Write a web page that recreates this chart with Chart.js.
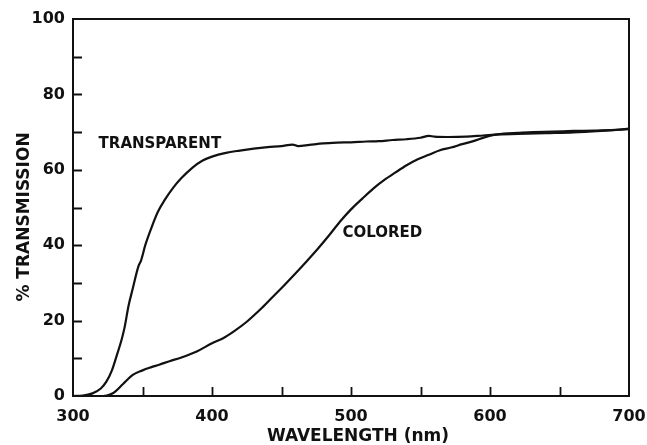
<!DOCTYPE html>
<html>
<head>
<meta charset="utf-8">
<script src="https://cdn.jsdelivr.net/npm/chart.js@4/dist/chart.umd.min.js"></script>
<style>
  html, body { margin: 0; padding: 0; background: #fff; }
  canvas { display: block; }
</style>
</head>
<body>
<canvas id="spectrum" width="647" height="445"></canvas>
<script>
// Transmission spectra of the two samples: wavelength (nm) and % transmission
const transparentNm = [300, 307, 314, 320, 324, 328, 331, 335, 337, 340, 343, 347, 349, 352, 356, 361, 366, 372, 378, 386, 393, 400, 410, 420, 430, 440, 450, 458, 462, 470, 480, 490, 500, 511, 520, 530, 540, 550, 556, 560, 570, 583, 595, 607, 620, 640, 660, 680, 700];
const transparentPct = [0, 0.1, 0.7, 2.0, 3.8, 6.8, 10.2, 15, 18, 24, 28.5, 34.3, 36, 40, 44.2, 48.8, 52, 55.2, 57.8, 60.6, 62.4, 63.5, 64.5, 65.1, 65.6, 66, 66.3, 66.7, 66.3, 66.6, 67, 67.2, 67.3, 67.5, 67.6, 67.9, 68.1, 68.5, 69, 68.8, 68.7, 68.8, 69.1, 69.4, 69.5, 69.7, 69.9, 70.3, 70.8];

const coloredNm = [322, 324, 329, 336, 343, 350, 356, 362, 370, 377, 389, 400, 408, 416, 425, 436, 444, 452, 460, 468, 476, 484, 492, 500, 508, 516, 524, 532, 540, 548, 556, 564, 572, 580, 588, 596, 602, 610, 620, 631, 645, 660, 675, 690, 700];
const coloredPct = [0, 0.1, 0.8, 3.2, 5.6, 6.8, 7.6, 8.3, 9.3, 10.1, 11.8, 14, 15.3, 17.2, 19.7, 23.4, 26.4, 29.4, 32.5, 35.7, 39, 42.5, 46.2, 49.5, 52.3, 55, 57.3, 59.3, 61.2, 62.8, 64, 65.2, 65.9, 66.8, 67.6, 68.6, 69.2, 69.6, 69.8, 70, 70.1, 70.3, 70.4, 70.6, 70.9];

// Axis ranges and tick spacing
const xRange = [300, 700];
const yRange = [0, 100];
const xTickStep = 50;   // tick marks every 50 nm, labels every 100 nm
const yTickStep = 10;   // tick marks every 10 %, labels every 20 %
const xTitle = 'WAVELENGTH (nm)';
const yTitle = '% TRANSMISSION';
const curveLabels = [
  { text: 'TRANSPARENT', nm: 362.5, pct: 66.8 },
  { text: 'COLORED', nm: 522.5, pct: 43.2 }
];

const INK = '#111';
const FONT = "'DejaVu Sans', 'Liberation Sans', sans-serif";

function toPoints(xs, ys) {
  return xs.map((x, i) => ({ x: x, y: ys[i] }));
}

// Boxed frame, inward tick marks, curve labels and axis titles
const framePlugin = {
  id: 'frame',
  afterDraw(chart) {
    const { ctx, chartArea: a, scales } = chart;
    const xs = scales.x, ys = scales.y;
    ctx.save();
    ctx.strokeStyle = INK;
    ctx.lineWidth = 2;
    ctx.strokeRect(a.left, a.top, a.right - a.left, a.bottom - a.top);

    const tickLen = 9;
    ctx.lineWidth = 1.8;
    ctx.beginPath();
    for (let v = xRange[0] + xTickStep; v < xRange[1]; v += xTickStep) {
      const px = Math.round(xs.getPixelForValue(v)) + 0.5;
      ctx.moveTo(px, a.bottom);
      ctx.lineTo(px, a.bottom - tickLen);
    }
    for (let v = yRange[0] + yTickStep; v < yRange[1]; v += yTickStep) {
      const py = Math.round(ys.getPixelForValue(v)) + 0.5;
      ctx.moveTo(a.left, py);
      ctx.lineTo(a.left + tickLen, py);
    }
    ctx.stroke();

    ctx.fillStyle = INK;
    ctx.textAlign = 'center';
    ctx.textBaseline = 'middle';
    ctx.font = 'bold 15px ' + FONT;
    curveLabels.forEach(l => {
      ctx.fillText(l.text, xs.getPixelForValue(l.nm), ys.getPixelForValue(l.pct));
    });

    ctx.font = 'bold 17px ' + FONT;
    ctx.fillText(xTitle, 358, 437);
    ctx.translate(25, 217);
    ctx.rotate(-Math.PI / 2);
    ctx.fillText(yTitle, 0, 0);
    ctx.restore();
  }
};

new Chart(document.getElementById('spectrum'), {
  type: 'line',
  data: {
    datasets: [
      {
        label: 'TRANSPARENT',
        data: toPoints(transparentNm, transparentPct),
        borderColor: INK,
        borderWidth: 2.2,
        pointRadius: 0,
        cubicInterpolationMode: 'monotone',
        fill: false
      },
      {
        label: 'COLORED',
        data: toPoints(coloredNm, coloredPct),
        borderColor: INK,
        borderWidth: 2.2,
        pointRadius: 0,
        cubicInterpolationMode: 'monotone',
        fill: false
      }
    ]
  },
  options: {
    responsive: false,
    animation: false,
    events: [],
    layout: { padding: { top: 19, right: 18, left: 0, bottom: 0 }, autoPadding: false },
    plugins: {
      legend: { display: false },
      tooltip: { enabled: false }
    },
    scales: {
      x: {
        type: 'linear',
        min: xRange[0],
        max: xRange[1],
        grid: { display: false, drawTicks: false },
        border: { display: false },
        ticks: {
          stepSize: xTickStep,
          autoSkip: false,
          maxRotation: 0,
          padding: 11,
          color: INK,
          font: { family: FONT, size: 16, weight: 'bold' },
          callback: v => (v % 100 === 0 ? String(v) : '')
        },
        afterFit(scale) {
          scale.height = 49;
          scale.paddingLeft = 0;
          scale.paddingRight = 0;
        }
      },
      y: {
        type: 'linear',
        min: yRange[0],
        max: yRange[1],
        grid: { display: false, drawTicks: false },
        border: { display: false },
        ticks: {
          stepSize: yTickStep,
          autoSkip: false,
          padding: 8,
          color: INK,
          font: { family: FONT, size: 16, weight: 'bold' },
          callback: v => (v % 20 === 0 ? String(v) : '')
        },
        afterFit(scale) {
          scale.width = 73;
          scale.paddingTop = 0;
          scale.paddingBottom = 0;
        }
      }
    }
  },
  plugins: [framePlugin]
});
</script>
</body>
</html>
